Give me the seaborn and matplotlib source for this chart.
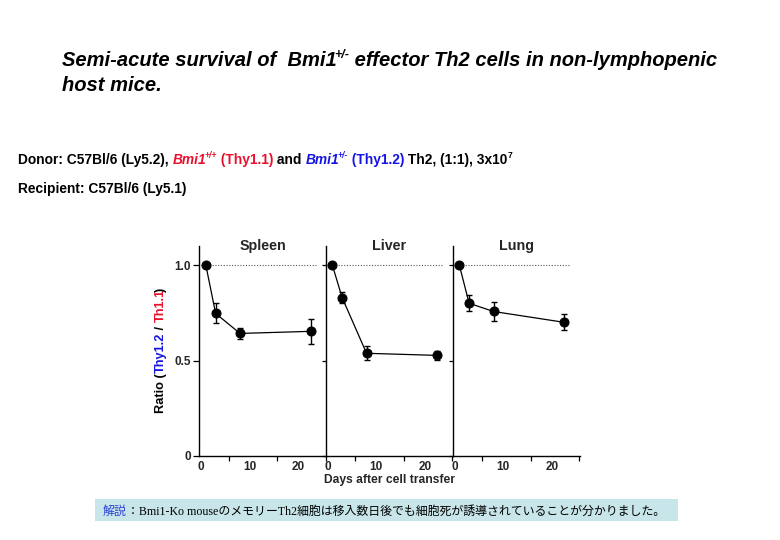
import numpy as np
import pandas as pd
import matplotlib
matplotlib.use('Agg')
import matplotlib.pyplot as plt
import seaborn as sns
from matplotlib.text import Annotation
from matplotlib.patches import Rectangle

# ---- data ----
organs = ['Spleen', 'Liver', 'Lung']
days = [1, 3, 8, 22.5]
spleen_ratio = [1.0, 0.747, 0.642, 0.653]
spleen_sem = [0.0, 0.052, 0.027, 0.065]
liver_ratio = [1.0, 0.830, 0.538, 0.527]
liver_sem = [0.0, 0.031, 0.036, 0.022]
lung_ratio = [1.0, 0.800, 0.757, 0.700]
lung_sem = [0.0, 0.042, 0.050, 0.042]

ratios = {'Spleen': spleen_ratio, 'Liver': liver_ratio, 'Lung': lung_ratio}
sems = {'Spleen': spleen_sem, 'Liver': liver_sem, 'Lung': lung_sem}

df = pd.concat([
    pd.DataFrame({'organ': o, 'day': days, 'ratio': ratios[o], 'sem': sems[o]})
    for o in organs
], ignore_index=True)

RED = '#e8112d'
BLUE = '#1414e6'

sns.set_style('ticks')
plt.rcParams['font.family'] = ['Liberation Sans', 'DejaVu Sans']
plt.rcParams['font.weight'] = 'bold'

W, H = 780, 540
fig = plt.figure(figsize=(W / 100, H / 100), dpi=100)


def run_text(pieces, x, y, size, family=None, weight='bold'):
    """Write pieces of text one after another on a common baseline (pixel coords, y from top)."""
    prev = None
    prev_italic = False
    for txt, color, italic, sup in pieces:
        fs = size * 0.62 if sup else size
        dy = size * 0.42 if sup else 0
        dx = -size * 0.12 if (sup and prev_italic) else 0
        kw = dict(color=color, fontsize=fs, fontweight=weight,
                  fontstyle='italic' if italic else 'normal',
                  textcoords='offset points', xytext=(dx, dy),
                  ha='left', va='baseline')
        if family:
            kw['family'] = family
        if prev is None:
            t = Annotation(txt, xy=(x, H - y), xycoords='figure pixels', **kw)
        else:
            t = Annotation(txt, xy=(1, H - y), xycoords=(prev, 'figure pixels'), **kw)
        fig.add_artist(t)
        prev = t
        prev_italic = italic


def run_vertical(pieces, x, y, size):
    prev = None
    for txt, color, shift in pieces:
        kw = dict(color=color, fontsize=size, fontweight='bold', rotation=90,
                  rotation_mode='anchor', ha='left', va='baseline',
                  textcoords='offset points', xytext=(0, shift))
        if prev is None:
            t = Annotation(txt, xy=(x, H - y), xycoords='figure pixels', **kw)
        else:
            t = Annotation(txt, xy=(x, 1), xycoords=('figure pixels', prev), **kw)
        fig.add_artist(t)
        prev = t


# ---- header text ----
run_text([('Semi-acute survival of  Bmi1', 'black', True, False),
          ('+/-', 'black', True, True),
          (' effector Th2 cells in non-lymphopenic', 'black', True, False)], 62, 66, 14.5)
run_text([('host mice.', 'black', True, False)], 62, 91, 14.5)

run_text([('Donor: C57Bl/6 (Ly5.2), ', 'black', False, False),
          ('Bmi1', RED, True, False), ('+/+', RED, True, True),
          (' (Thy1.1)', RED, False, False),
          (' and ', 'black', False, False),
          ('Bmi1', BLUE, True, False), ('+/-', BLUE, True, True),
          (' (Thy1.2)', BLUE, False, False),
          (' Th2, (1:1), 3x10', 'black', False, False),
          ('7', 'black', False, True)], 18, 164, 9.9)
run_text([('Recipient: C57Bl/6 (Ly5.1)', 'black', False, False)], 18, 193, 9.9)

# ---- panels ----
lefts = [199, 325.5, 452.5]
axes = [fig.add_axes([l / W, (H - 456) / H, 127.5 / W, 210 / H]) for l in lefts]

for i, (ax, organ) in enumerate(zip(axes, organs)):
    sub = df[df['organ'] == organ]
    ax.hlines(1.0, 0, 23.7, colors='#555555', linestyles=(0, (1, 1.5)), linewidth=0.8)
    ax.errorbar(sub['day'], sub['ratio'], yerr=sub['sem'], fmt='none', ecolor='black',
                elinewidth=1.0, capsize=2.5, capthick=1.0, zorder=3)
    sns.lineplot(data=sub, x='day', y='ratio', ax=ax, color='black', marker='o',
                 markersize=6.5, markeredgecolor='black', linewidth=0.9,
                 errorbar=None, zorder=4)
    ax.set_xlim(-0.4, 25.7)
    ax.set_ylim(0, 1.1)
    ax.set_xticks([0, 10, 20])
    ax.set_xticklabels(['0', '10', '20'])
    ax.set_xticks([0, 5.7, 15.6, 25.5], minor=True)
    ax.tick_params(axis='x', which='major', length=0, pad=3.5, labelsize=8.5)
    ax.tick_params(axis='x', which='minor', length=3.5, width=0.9, color='black')
    ax.set_yticks([0, 0.5, 1.0])
    ax.set_yticklabels(['0', '0.5', '1.0'])
    ax.tick_params(axis='y', length=4 if i == 0 else 3, width=0.9, pad=2,
                   labelsize=8.5, labelleft=(i == 0), color='black')
    ax.set_xlabel('')
    ax.set_ylabel('')
    for s in ['top', 'right']:
        ax.spines[s].set_visible(False)
    for s in ['left', 'bottom']:
        ax.spines[s].set_linewidth(1.0)
        ax.spines[s].set_color('black')
    ax.patch.set_alpha(0)
    ax.text(0.5, 1.0, organ, transform=ax.transAxes, ha='center', va='center',
            fontsize=10.3, fontweight='bold')

fig.text(390 / W, 1 - 480 / H, 'Days after cell transfer', ha='center', va='center',
         fontsize=8.7, fontweight='bold')

run_vertical([('Ratio (', 'black', 0), ('Thy1.2', BLUE, 0), (' / ', 'black', 0),
              ('Th1.1', RED, 0), (')', 'black', -2.2)], 164, 413, 9.2)

# ---- comment box ----
fig.add_artist(Rectangle((95 / W, (H - 521) / H), 583 / W, 22 / H, transform=fig.transFigure,
                         facecolor='#c8e5e9', edgecolor='none', zorder=0))
run_text([('解説', '#2b45d6', False, False),
          ('：Bmi1-Ko mouseのメモリーTh2細胞は移入数日後でも細胞死が誘導されていることが分かりました。',
           'black', False, False)], 103, 515, 8.6,
         family=['Liberation Serif', 'Noto Sans CJK JP'], weight='normal')

fig.savefig('out.png', dpi=100)
